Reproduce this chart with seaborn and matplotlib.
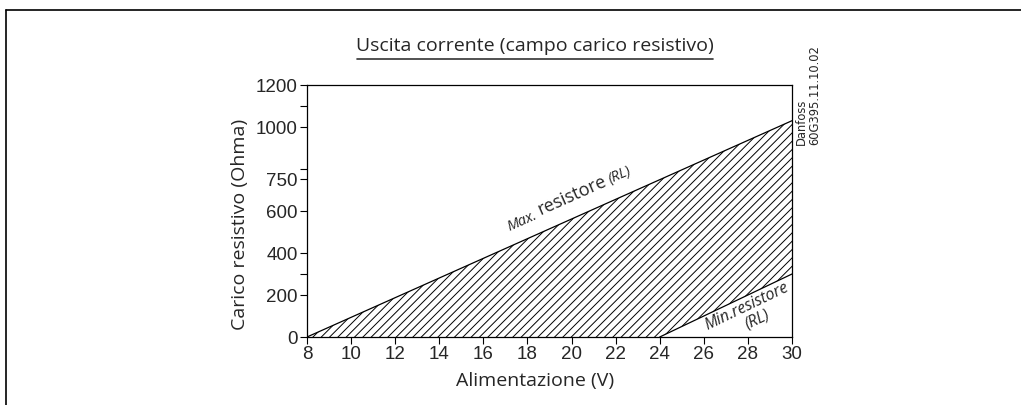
import matplotlib
matplotlib.use("Agg")
import matplotlib.pyplot as plt
import seaborn as sns
from matplotlib.lines import Line2D

# data
supply_v = [8, 30]
max_rl = [0, 1030]
min_supply_v = [24, 30]
min_rl = [0, 300]
x_ticks = [8, 10, 12, 14, 16, 18, 20, 22, 24, 26, 28, 30]
y_ticks = [0, 200, 400, 600, 750, 1000, 1200]
y_minor = [300, 800, 1100]

sns.set_style("ticks")
plt.rcParams["font.family"] = ["Liberation Sans", "DejaVu Sans"]
plt.rcParams["hatch.linewidth"] = 0.7

W, H = 1021, 405
fig = plt.figure(figsize=(W / 100, H / 100), dpi=100)
ax = fig.add_axes([307 / W, 68 / H, 485 / W, 252 / H])

# hatched working area between max and min load line
ax.fill(supply_v + min_supply_v[::-1], max_rl + min_rl[::-1],
        facecolor="none", edgecolor="black", hatch="////", linewidth=0)
sns.lineplot(x=supply_v, y=max_rl, color="black", linewidth=0.9, ax=ax)
sns.lineplot(x=min_supply_v, y=min_rl, color="black", linewidth=0.9, ax=ax)

ax.set_xlim(8, 30)
ax.set_ylim(0, 1200)
ax.set_xticks(x_ticks)
ax.set_yticks(y_ticks)
ax.set_yticks(y_minor, minor=True)
ax.tick_params(which="both", direction="out", length=5, width=0.8,
               color="black", labelsize=13.5, pad=1.5)
for s in ax.spines.values():
    s.set_linewidth(0.9)
    s.set_color("black")

ax.set_xlabel("Alimentazione (V)", fontfamily="Open Sans", fontsize=14, va="center")
ax.xaxis.set_label_coords(0.47, -0.175)
ax.set_ylabel("Carico resistivo (Ohma)", fontfamily="Open Sans", fontsize=14, va="center")
ax.yaxis.set_label_coords(-0.138, 0.448)

# line annotations
ax.text(17.75, 550, "Max.", fontfamily="Open Sans", style="italic", fontsize=10.5,
        rotation=24, rotation_mode="anchor", ha="center", va="center")
ax.text(20.02, 672, "resistore", fontfamily="Open Sans", fontsize=13,
        rotation=24, rotation_mode="anchor", ha="center", va="center")
ax.text(22.2, 768, "(RL)", fontfamily="Open Sans", style="italic", fontsize=10.5,
        rotation=24, rotation_mode="anchor", ha="center", va="center")
ax.text(27.95, 145, "Min.resistore", fontfamily="Open Sans", style="italic", fontsize=11.5,
        rotation=25.7, rotation_mode="anchor", ha="center", va="center")
ax.text(28.4, 82, "(RL)", fontfamily="Open Sans", style="italic", fontsize=11.5,
        rotation=25.7, rotation_mode="anchor", ha="center", va="center")

# title with underline
fig.text(535 / W, 1 - 46 / H, "Uscita corrente (campo carico resistivo)",
         fontfamily="Open Sans", fontsize=14, ha="center", va="center")
fig.add_artist(Line2D([357 / W, 713 / W], [1 - 59 / H, 1 - 59 / H],
                      transform=fig.transFigure, color="#333333", linewidth=1.2))

fig.text(808 / W, 1 - 145 / H, "Danfoss\n60G395.11.10.02", fontfamily="DejaVu Sans",
         fontsize=8.3, rotation=90, ha="center", va="bottom",
         multialignment="left", linespacing=1.0)

# page frame
fig.add_artist(Line2D([6 / W, 6 / W], [0, 1 - 10 / H], transform=fig.transFigure,
                      color="black", linewidth=1.2))
fig.add_artist(Line2D([6 / W, 1], [1 - 10 / H, 1 - 10 / H], transform=fig.transFigure,
                      color="black", linewidth=1.2))

fig.savefig("out.png", dpi=100)
